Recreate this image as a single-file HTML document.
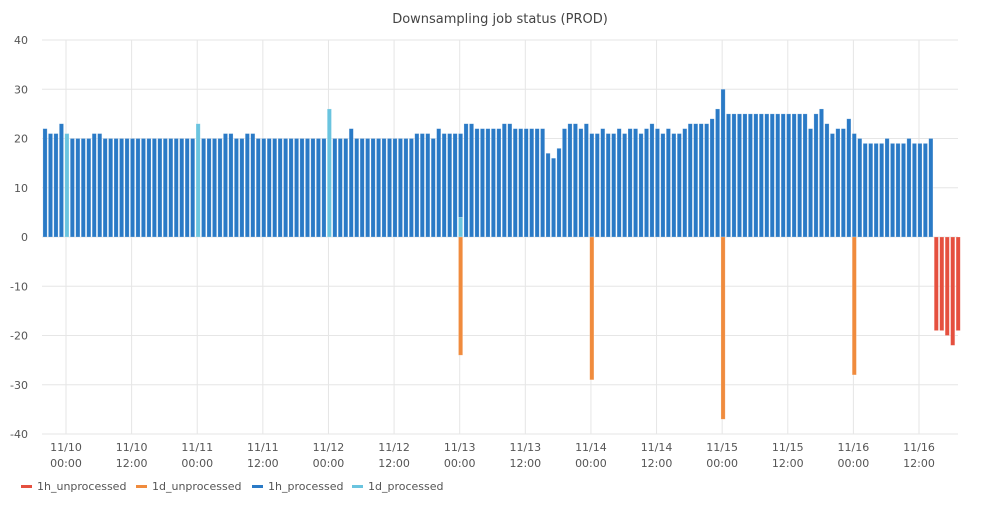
<!DOCTYPE html>
<html><head><meta charset="utf-8"><style>
body{margin:0;background:#fff;font-family:"Liberation Sans","DejaVu Sans",sans-serif;}
svg text{font-family:"DejaVu Sans","Liberation Sans",sans-serif;}
</style></head><body>
<svg id="chart" width="1000" height="500" viewBox="0 0 1000 500" xmlns="http://www.w3.org/2000/svg">
<text x="500" y="23" text-anchor="middle" font-size="13" fill="#444">Downsampling job status (PROD)</text>
<g id="grid"></g><g id="bars"></g><g id="axes"></g>
<g id="legend"></g>
</svg>
<script>
const startHour = -4;
const h1Processed = [22,21,21,23,
0,20,20,20,20,21,21, 20,20,20,20,20, 20,20,20,20,20, 20,20,20,20,20, 20,20,
0,20,20,20,20,21,21,20,20,21,21, 20,20,20,20,20, 20,20,20,20,20, 20,20,20,
0,20,20,20,22, 20,20,20,20,20, 20,20,20,20,20, 20, 21,21,21,20,22,21,21,21,
17,23,23,22,22,22,22,22,23,23,22,22,22,22,22,22,17,16,18,22,23,23,22,23,
21,21,22,21,21,22,21,22,22,21,22,23,22,21,22,21,21,22,23,23,23,23,24,26,
30, 25,25,25,25,25, 25,25,25,25,25, 25,25,25,25,25, 22,25,26,23,21,22,22,24,
21,20,19,19,19,19,20,19,19,19,20,19,19,19,20, 0,0,0,0,0];
const d1Processed = {0:21,24:23,48:26,72:4};
const d1Unprocessed = {72:-24,96:-29,120:-37,144:-28};
const h1Unprocessed = {159:-19,160:-19,161:-20,162:-22,163:-19};
const yTicks = [40,30,20,10,0,-10,-20,-30,-40];
const xTickHours = [0,12,24,36,48,60,72,84,96,108,120,132,144,156];
const xTickDates = ["11/10","11/10","11/11","11/11","11/12","11/12","11/13","11/13","11/14","11/14","11/15","11/15","11/16","11/16"];
const xTickTimes = ["00:00","12:00","00:00","12:00","00:00","12:00","00:00","12:00","00:00","12:00","00:00","12:00","00:00","12:00"];
const legendNames = ["1h_unprocessed","1d_unprocessed","1h_processed","1d_processed"];
const legendColors = ["#e5503f","#f08b3d","#2a7ac6","#6ac4df"];

const NS="http://www.w3.org/2000/svg";
const X0=42,X1=958,Y0=40,Y1=434;
function xs(h){return 66+5.468*h;}
function ys(v){return 237-v*(Y1-Y0)/80;}
function mk(tag,attrs,parent){const e=document.createElementNS(NS,tag);for(const k in attrs)e.setAttribute(k,attrs[k]);parent.appendChild(e);return e;}
const grid=document.getElementById('grid'),bars=document.getElementById('bars'),axes=document.getElementById('axes'),legend=document.getElementById('legend');
yTicks.forEach(t=>{
  const l=mk('line',{x1:X0,x2:X1,y1:ys(t),y2:ys(t),stroke:'#e6e6e6','stroke-width':1},grid);
  
  
  const tx=mk('text',{x:28,y:ys(t)+4,'text-anchor':'end','font-size':11,fill:'#555'},axes);
  tx.textContent=t;
  
  
});
xTickHours.forEach((h,i)=>{
  const l=mk('line',{x1:xs(h),x2:xs(h),y1:Y0,y2:Y1,stroke:'#e6e6e6','stroke-width':1},grid);
  
  
  const t1=mk('text',{x:xs(h),y:451,'text-anchor':'middle','font-size':11,fill:'#555'},axes);
  t1.textContent=xTickDates[i];
  
  
  const t2=mk('text',{x:xs(h),y:467,'text-anchor':'middle','font-size':11,fill:'#555'},axes);
  t2.textContent=xTickTimes[i];
  
  
});
function bar(h,v0,v1,color,name){
  const y=Math.min(ys(v0),ys(v1)),hh=Math.abs(ys(v1)-ys(v0));
  const r=mk('rect',{x:xs(h)-1.2,y:y,width:4.2,height:hh,fill:color,stroke:'rgba(255,255,255,0.35)','stroke-width':0.6},bars);
  
  
}
h1Processed.forEach((v,i)=>{
  const h=i+startHour;
  const base=d1Processed[h]||0;
  if(base)bar(h,0,base,legendColors[3],'bar-1d-processed');
  if(v)bar(h,base,base+v,legendColors[2],'bar-1h-processed');
});
for(const h in d1Unprocessed)bar(+h,0,d1Unprocessed[h],legendColors[1],'bar-1d-unprocessed');
for(const h in h1Unprocessed)bar(+h,0,h1Unprocessed[h],legendColors[0],'bar-1h-unprocessed');
const lx=[21,136,252,352];
legendNames.forEach((n,i)=>{
  const r=mk('rect',{x:lx[i],y:485,width:11,height:3,fill:legendColors[i]},legend);
  
  
  const t=mk('text',{x:lx[i]+16,y:490,'font-size':11,fill:'#555'},legend);
  t.textContent=n;
  
  
});
</script>
</body></html>
